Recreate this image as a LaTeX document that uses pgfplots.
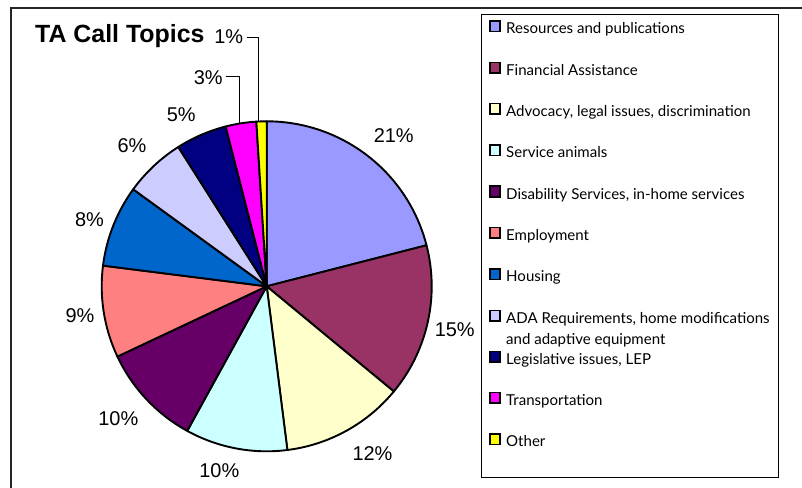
\documentclass[border=0pt]{standalone}
\usepackage{fontspec}
\setmainfont{Liberation Sans}
\newfontfamily\legendfont{Lato}
\usepackage{pgfplots}
\pgfplotsset{compat=1.18}

\definecolor{cRes}{HTML}{9999FF}
\definecolor{cFin}{HTML}{993366}
\definecolor{cAdv}{HTML}{FFFFCC}
\definecolor{cSer}{HTML}{CCFFFF}
\definecolor{cDis}{HTML}{660066}
\definecolor{cEmp}{HTML}{FF8080}
\definecolor{cHou}{HTML}{0066CC}
\definecolor{cADA}{HTML}{CCCCFF}
\definecolor{cLeg}{HTML}{000080}
\definecolor{cTra}{HTML}{FF00FF}
\definecolor{cOth}{HTML}{FFFF00}

% pie geometry (pixel units, y downwards)
\def\cx{266.7}
\def\cy{286.3}
\def\rr{165}
\def\cum{0}
% #1 = percentage, #2 = colour
\newcommand{\slice}[2]{%
  \pgfmathsetmacro\slfrom{\cum}%
  \pgfmathsetmacro\slto{\cum+#1}%
  \edef\doslice{\noexpand\addplot[fill=#2, draw=black, line width=1.9bp, line join=round,
    domain=\slfrom*3.6:\slto*3.6, samples=60]
    ({\cx+\rr*sin(x)},{\cy-\rr*cos(x)}) -- (axis cs:\cx,\cy) -- cycle;}%
  \doslice
  \global\let\cum\slto
}
% legend item: #1 = baseline y, #2 = colour, #3 = text
\newcommand{\legitem}[3]{%
  \draw[fill=#2, draw=black, line width=1.6bp] (axis cs:489.8,#1-2.3) rectangle (axis cs:500.2,#1-12.9);
  \node[anchor=base west, inner sep=0pt, font=\legendfont\fontsize{15.1}{20.7}\selectfont] at (axis cs:506,#1) {#3};
}

\begin{document}
\begin{tikzpicture}
\useasboundingbox (0,0) rectangle (802bp,488bp);
\begin{axis}[
  at={(0,0)}, anchor=south west,
  width=802bp, height=488bp, scale only axis,
  xmin=0, xmax=802, ymin=0, ymax=488, y dir=reverse,
  hide axis, clip=false,
]
% frame and legend box
\draw[black!85, line width=1.8bp] (axis cs:805,8) -- (axis cs:11,8) -- (axis cs:11,491);
\draw[black, line width=0.9bp] (axis cs:481,14) rectangle (axis cs:778,477);

\slice{21}{cRes}
\slice{15}{cFin}
\slice{12}{cAdv}
\slice{10}{cSer}
\slice{10}{cDis}
\slice{9}{cEmp}
\slice{8}{cHou}
\slice{6}{cADA}
\slice{5}{cLeg}
\slice{3}{cTra}
\slice{1}{cOth}

% legend
\legitem{34}{cRes}{Resources and publications}
\legitem{75.3}{cFin}{Financial Assistance}
\legitem{116.5}{cAdv}{Advocacy, legal issues, discrimination}
\legitem{157.8}{cSer}{Service animals}
\legitem{199.1}{cDis}{Disability Services, in-home services}
\legitem{240.4}{cEmp}{Employment}
\legitem{281.6}{cHou}{Housing}
\legitem{323.3}{cADA}{ADA Requirements, home modifications}
\node[anchor=base west, inner sep=0pt, font=\legendfont\fontsize{15.1}{20.7}\selectfont] at (axis cs:506,344) {and adaptive equipment};
\legitem{364.2}{cLeg}{Legislative issues, LEP}
\legitem{405.5}{cTra}{Transportation}
\legitem{446.7}{cOth}{Other}

% title
\node[anchor=base west, inner sep=0pt, font=\bfseries\fontsize{25}{30}\selectfont] at (axis cs:35,42.3) {TA Call Topics};

% percentage labels
\begin{scope}[every node/.style={anchor=base, inner sep=0pt, font=\fontsize{20}{24}\selectfont}]
\node at (axis cs:393.7,142.3) {21\%};
\node at (axis cs:454.7,336.5) {15\%};
\node at (axis cs:372.5,460) {12\%};
\node at (axis cs:219.3,477.3) {10\%};
\node at (axis cs:118.3,425) {10\%};
\node at (axis cs:80,322.7) {9\%};
\node at (axis cs:89.5,226.7) {8\%};
\node at (axis cs:132,152.7) {6\%};
\node at (axis cs:181.3,121.7) {5\%};
\node at (axis cs:208.3,85) {3\%};
\node at (axis cs:228.7,43.3) {1\%};
\end{scope}
% leader lines
\draw[black, line width=0.8bp] (axis cs:246.7,37.7) -- (axis cs:258.3,37.7) -- (axis cs:258.3,121.6);
\draw[black, line width=0.8bp] (axis cs:225.7,76.7) -- (axis cs:239.3,76.7) -- (axis cs:239.3,123.6);
\end{axis}
\end{tikzpicture}
\end{document}
